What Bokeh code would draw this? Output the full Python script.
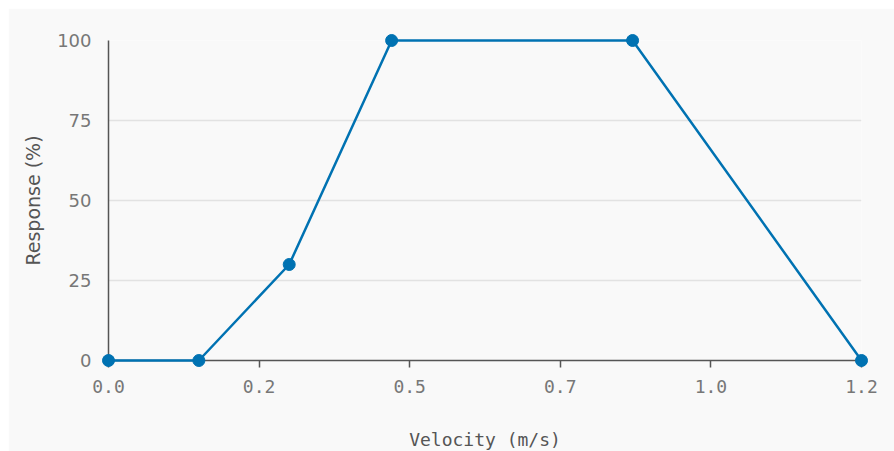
from bokeh.plotting import figure
from bokeh.models import Range1d, FixedTicker, Spacer
from bokeh.layouts import column, row
from bokeh.embed import file_html
from bokeh.resources import INLINE

# Data
velocity = [0.0, 0.15, 0.3, 0.47, 0.87, 1.25]
response = [0, 0, 30, 100, 100, 0]

x_ticks = [0.0, 0.25, 0.5, 0.75, 1.0, 1.25]
x_tick_labels = ["0.0", "0.2", "0.5", "0.7", "1.0", "1.2"]
y_ticks = [0, 25, 50, 75, 100]

x_title = "Velocity (m/s)"
y_title = "Response (%)"

BG = "#f9f9f9"
BLUE = "#0072B2"

p = figure(
    frame_width=753, frame_height=320,
    min_border_left=100, min_border_right=33,
    min_border_top=32, min_border_bottom=91,
    x_range=Range1d(0, 1.25), y_range=Range1d(0, 100),
    output_backend="svg", toolbar_location=None,
    background_fill_color=BG, border_fill_color=BG,
)
p.outline_line_color = None

p.line(velocity, response, line_color=BLUE, line_width=2.5, level="overlay")
p.scatter(velocity, response, size=12, fill_color=BLUE, line_color=BLUE, level="overlay")

# grids
p.xgrid.grid_line_color = None
p.ygrid.grid_line_color = "#e2e2e2"
p.ygrid.grid_line_width = 1.5
p.ygrid.ticker = FixedTicker(ticks=y_ticks[1:])

# x axis
xa = p.xaxis[0]
xa.ticker = FixedTicker(ticks=x_ticks)
xa.major_label_overrides = {t: l for t, l in zip(x_ticks, x_tick_labels)}
xa.axis_label = x_title
xa.axis_line_color = "#555555"
xa.axis_line_width = 1.5
xa.major_tick_line_color = "#555555"
xa.major_tick_line_width = 1.5
xa.major_tick_out = 7
xa.major_tick_in = 0
xa.minor_tick_line_color = None
xa.major_label_standoff = 12
xa.major_label_text_font = "DejaVu Sans Mono"
xa.major_label_text_font_size = "18px"
xa.major_label_text_color = "#777777"
xa.axis_label_text_font = "DejaVu Sans Mono"
xa.axis_label_text_font_size = "18px"
xa.axis_label_text_font_style = "normal"
xa.axis_label_text_color = "#555555"
xa.axis_label_standoff = 33

# y axis
ya = p.yaxis[0]
ya.ticker = FixedTicker(ticks=y_ticks)
ya.axis_label = y_title
ya.axis_line_color = "#555555"
ya.axis_line_width = 1.5
ya.major_tick_line_color = None
ya.major_tick_out = 0
ya.major_tick_in = 0
ya.minor_tick_line_color = None
ya.major_label_standoff = 17
ya.major_label_text_font = "DejaVu Sans"
ya.major_label_text_font_size = "18px"
ya.major_label_text_color = "#777777"
ya.axis_label_text_font = "DejaVu Sans"
ya.axis_label_text_font_size = "19px"
ya.axis_label_text_font_style = "normal"
ya.axis_label_text_color = "#555555"
ya.axis_label_standoff = 10

layout = column(Spacer(width=1, height=8), row(Spacer(width=8, height=1), p))

open("out.html", "w").write(file_html(layout, INLINE))
